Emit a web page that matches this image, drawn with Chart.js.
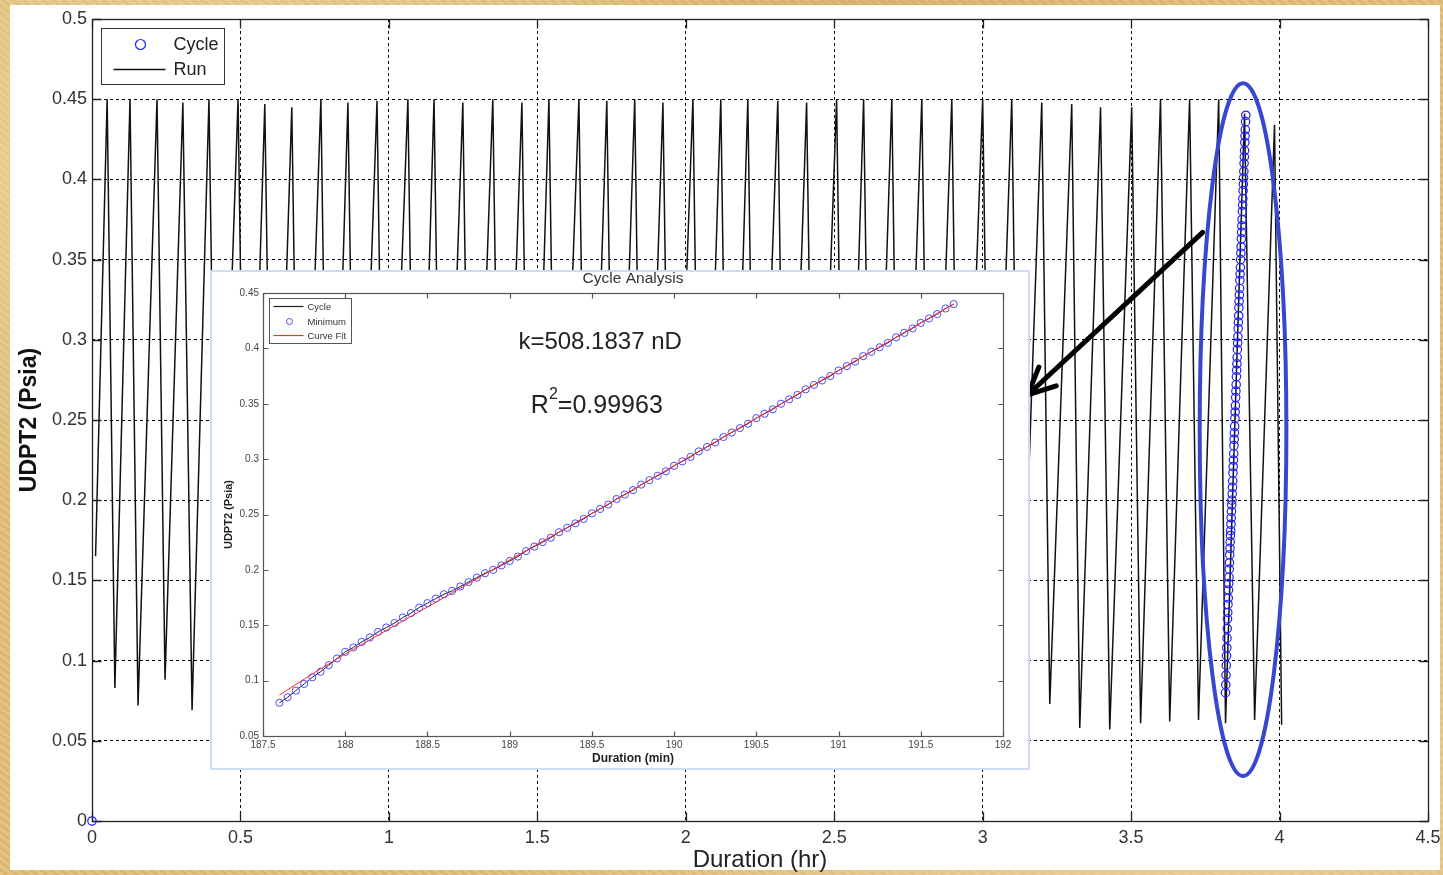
<!DOCTYPE html>
<html>
<head>
<meta charset="utf-8">
<script src="https://cdn.jsdelivr.net/npm/chart.js@4.4.1/dist/chart.umd.min.js"></script>
<style>
html,body{margin:0;padding:0;width:1443px;height:875px;overflow:hidden;}
body{position:relative;background-color:#e2be78;
background-image:
 radial-gradient(ellipse at 15% 20%, rgba(250,230,180,.55), rgba(0,0,0,0) 35%),
 radial-gradient(ellipse at 80% 90%, rgba(245,220,165,.6), rgba(0,0,0,0) 40%),
 radial-gradient(ellipse at 60% 5%, rgba(200,160,90,.35), rgba(0,0,0,0) 30%),
 repeating-linear-gradient(37deg, rgba(255,255,255,.06) 0 3px, rgba(0,0,0,.04) 3px 6px);}
#panel{position:absolute;left:10px;top:5px;width:1430px;height:865px;background:#fff;}
#main{position:absolute;left:0;top:0;}
#insetBox{position:absolute;left:212px;top:272px;width:816px;height:496px;background:#fff;outline:2px solid #cddcf2;}
#inset{position:absolute;left:0;top:0;}
</style>
</head>
<body>
<div id="panel"></div>
<canvas id="main" width="1443" height="875"></canvas>
<div id="insetBox"><canvas id="inset" width="816" height="496"></canvas></div>
<script>
// ---------------- DATA ----------------
// Main chart: tick values and labels
const xTicks = [0, 0.5, 1, 1.5, 2, 2.5, 3, 3.5, 4, 4.5];
const xTickLabels = ['0', '0.5', '1', '1.5', '2', '2.5', '3', '3.5', '4', '4.5'];
const yTicks = [0, 0.05, 0.1, 0.15, 0.2, 0.25, 0.3, 0.35, 0.4, 0.45, 0.5];
const yTickLabels = ['0', '0.05', '0.1', '0.15', '0.2', '0.25', '0.3', '0.35', '0.4', '0.45', '0.5'];

// Main chart "Run" series: start, then alternating peak / trough (Duration hr, UDPT2 Psia)
const runHr = [
  0.012,
  0.051, 0.077, 0.128, 0.155, 0.219, 0.246, 0.306, 0.337, 0.394, 0.423,
  0.492, 0.521, 0.582, 0.611, 0.673, 0.702, 0.771, 0.800, 0.862, 0.891,
  0.960, 0.989, 1.064, 1.093, 1.152, 1.181, 1.249, 1.278, 1.350, 1.379,
  1.448, 1.477, 1.539, 1.568, 1.640, 1.669, 1.734, 1.763, 1.828, 1.857,
  1.923, 1.952, 2.024, 2.053, 2.118, 2.147, 2.209, 2.238, 2.310, 2.339,
  2.407, 2.436, 2.508, 2.537, 2.599, 2.628, 2.694, 2.723, 2.795, 2.824,
  2.896, 2.925, 3.000, 3.029, 3.098, 3.127, 3.199, 3.226, 3.300, 3.327,
  3.397, 3.428, 3.502, 3.532, 3.599, 3.630, 3.697, 3.727, 3.795, 3.818,
  3.882, 3.916, 3.983, 4.007
];
const runPsia = [
  0.165,
  0.450, 0.083, 0.450, 0.072, 0.450, 0.088, 0.448, 0.069, 0.450, 0.075,
  0.450, 0.068, 0.447, 0.080, 0.445, 0.072, 0.450, 0.066, 0.448, 0.078,
  0.449, 0.070, 0.450, 0.064, 0.450, 0.076, 0.448, 0.069, 0.450, 0.073,
  0.448, 0.065, 0.450, 0.079, 0.450, 0.067, 0.449, 0.071, 0.450, 0.063,
  0.448, 0.074, 0.450, 0.068, 0.450, 0.062, 0.450, 0.070, 0.449, 0.066,
  0.448, 0.072, 0.450, 0.064, 0.450, 0.069, 0.450, 0.061, 0.450, 0.067,
  0.450, 0.065, 0.450, 0.070, 0.450, 0.066, 0.448, 0.073, 0.447, 0.058,
  0.445, 0.057, 0.445, 0.061, 0.450, 0.062, 0.450, 0.063, 0.450, 0.061,
  0.441, 0.063, 0.434, 0.060
];

// Cycle minimum data (inset, Duration min vs UDPT2 Psia)
const cycleMin = [
  187.60, 187.65, 187.70, 187.75, 187.80, 187.85, 187.90, 187.95, 188.00,
  188.05, 188.10, 188.15, 188.20, 188.25, 188.30, 188.35, 188.40, 188.45, 188.50,
  188.55, 188.60, 188.65, 188.70, 188.75, 188.80, 188.85, 188.90, 188.95, 189.00,
  189.05, 189.10, 189.15, 189.20, 189.25, 189.30, 189.35, 189.40, 189.45, 189.50,
  189.55, 189.60, 189.65, 189.70, 189.75, 189.80, 189.85, 189.90, 189.95, 190.00,
  190.05, 190.10, 190.15, 190.20, 190.25, 190.30, 190.35, 190.40, 190.45, 190.50,
  190.55, 190.60, 190.65, 190.70, 190.75, 190.80, 190.85, 190.90, 190.95, 191.00,
  191.05, 191.10, 191.15, 191.20, 191.25, 191.30, 191.35, 191.40, 191.45, 191.50,
  191.55, 191.60, 191.65, 191.70
];
const cyclePsia = [
  0.080, 0.085, 0.091, 0.097, 0.103, 0.108, 0.114, 0.120, 0.126,
  0.130, 0.135, 0.139, 0.144, 0.148, 0.152, 0.157, 0.161, 0.166, 0.170,
  0.174, 0.178, 0.181, 0.185, 0.189, 0.193, 0.197, 0.200, 0.204, 0.208,
  0.212, 0.217, 0.221, 0.225, 0.229, 0.234, 0.238, 0.242, 0.246, 0.251,
  0.255, 0.259, 0.264, 0.268, 0.272, 0.277, 0.281, 0.285, 0.289, 0.294,
  0.298, 0.302, 0.307, 0.311, 0.315, 0.320, 0.324, 0.328, 0.332, 0.337,
  0.341, 0.345, 0.350, 0.354, 0.358, 0.363, 0.367, 0.371, 0.375, 0.380,
  0.384, 0.388, 0.393, 0.397, 0.401, 0.405, 0.410, 0.414, 0.418, 0.423,
  0.427, 0.431, 0.436, 0.440
];
// Curve fit
const fitMin  = [187.6, 187.8, 188.0, 188.2, 188.4, 188.6, 188.8, 189.0, 189.5, 190.0, 190.5, 191.0, 191.5, 191.7];
const fitPsia = [0.087, 0.106, 0.124, 0.141, 0.158, 0.175, 0.192, 0.209, 0.251, 0.294, 0.337, 0.380, 0.423, 0.440];

// Main-chart cycle marker: origin point and hour at which the analysed cycle starts
const originHr = 0, originPsia = 0;
const cycleStartHr = 3.818;

// Inset ticks
const insetXTicks = [187.5, 188, 188.5, 189, 189.5, 190, 190.5, 191, 191.5, 192];
const insetXTickLabels = ['187.5', '188', '188.5', '189', '189.5', '190', '190.5', '191', '191.5', '192'];
const insetYTicks = [0.05, 0.1, 0.15, 0.2, 0.25, 0.3, 0.35, 0.4, 0.45];
const insetYTickLabels = ['0.05', '0.1', '0.15', '0.2', '0.25', '0.3', '0.35', '0.4', '0.45'];

// Texts
const insetTitle = 'Cycle Analysis';
const kText = 'k=508.1837 nD';
const r2Value = '=0.99963';

// ---------------- PLUGINS ----------------
const FONT = '"Liberation Sans", Arial, Helvetica, sans-serif';
Chart.defaults.font.family = FONT;

const matlabBox = {
  id: 'matlabBox',
  beforeDatasetsDraw(chart, args, o) {
    const {ctx, chartArea: a, scales: {x, y}} = chart;
    const L = Math.round(a.left) + 0.5, R = Math.round(a.right) + 0.5;
    const T = Math.round(a.top) + 0.5, B = Math.round(a.bottom) + 0.5;
    ctx.save();
    ctx.strokeStyle = o.color; ctx.lineWidth = o.width;
    ctx.beginPath();
    x.ticks.forEach(t => {
      const p = Math.round(x.getPixelForValue(t.value)) + 0.5;
      ctx.moveTo(p, B); ctx.lineTo(p, B - o.len);
      ctx.moveTo(p, T); ctx.lineTo(p, T + o.len);
    });
    y.ticks.forEach(t => {
      const p = Math.round(y.getPixelForValue(t.value)) + 0.5;
      ctx.moveTo(L, p); ctx.lineTo(L + o.len, p);
      ctx.moveTo(R, p); ctx.lineTo(R - o.len, p);
    });
    ctx.stroke();
    ctx.strokeRect(L, T, R - L, B - T);
    ctx.restore();
  }
};

const boxLegend = {
  id: 'boxLegend',
  afterDraw(chart, args, o) {
    if (!o || !o.items) return;
    const {ctx, chartArea: a} = chart;
    const x0 = Math.round(a.left + o.dx) + 0.5, y0 = Math.round(a.top + o.dy) + 0.5;
    ctx.save();
    ctx.fillStyle = '#fff'; ctx.fillRect(x0, y0, o.w, o.h);
    ctx.strokeStyle = o.borderColor; ctx.lineWidth = 1; ctx.strokeRect(x0, y0, o.w, o.h);
    ctx.font = o.font; ctx.textBaseline = 'middle'; ctx.textAlign = 'left';
    o.items.forEach(it => {
      const ds = chart.data.datasets[it.dataset];
      const yy = y0 + it.y;
      if (it.kind === 'line') {
        ctx.strokeStyle = ds.borderColor; ctx.lineWidth = Math.max(ds.borderWidth, 1.2);
        ctx.beginPath(); ctx.moveTo(x0 + o.lineFrom, yy); ctx.lineTo(x0 + o.lineTo, yy); ctx.stroke();
      } else {
        ctx.strokeStyle = ds.pointBorderColor; ctx.lineWidth = ds.pointBorderWidth || 1;
        ctx.beginPath(); ctx.arc(x0 + o.markerX, yy, o.markerR, 0, Math.PI * 2); ctx.stroke();
      }
      ctx.fillStyle = o.color; ctx.fillText(ds.label, x0 + o.textX, yy + 1);
    });
    ctx.restore();
  }
};

const mainAnnot = {
  id: 'mainAnnot',
  afterDatasetsDraw(chart, args, o) {
    const {ctx, scales: {x, y}} = chart;
    const e = o.ellipse;
    const cx = x.getPixelForValue(e.cx), cy = y.getPixelForValue(e.cy);
    const rx = Math.abs(x.getPixelForValue(e.cx + e.rx) - cx);
    const ry = Math.abs(y.getPixelForValue(e.cy + e.ry) - cy);
    ctx.save();
    ctx.strokeStyle = e.color; ctx.lineWidth = e.width;
    ctx.beginPath(); ctx.ellipse(cx, cy, rx, ry, 0, 0, Math.PI * 2); ctx.stroke();
    const ar = o.arrow;
    const x1 = x.getPixelForValue(ar.from[0]), y1 = y.getPixelForValue(ar.from[1]);
    const x2 = x.getPixelForValue(ar.to[0]), y2 = y.getPixelForValue(ar.to[1]);
    ctx.strokeStyle = ar.color; ctx.lineWidth = ar.width; ctx.lineCap = 'round'; ctx.lineJoin = 'round';
    ctx.beginPath(); ctx.moveTo(x1, y1); ctx.lineTo(x2, y2); ctx.stroke();
    const ang = Math.atan2(y1 - y2, x1 - x2);
    ctx.beginPath();
    ctx.moveTo(x2 + ar.head * Math.cos(ang - ar.spread), y2 + ar.head * Math.sin(ang - ar.spread));
    ctx.lineTo(x2, y2);
    ctx.lineTo(x2 + ar.head * Math.cos(ang + ar.spread), y2 + ar.head * Math.sin(ang + ar.spread));
    ctx.stroke();
    ctx.restore();
  }
};

const insetText = {
  id: 'insetText',
  afterDraw(chart, args, o) {
    const {ctx, chartArea: a, scales: {x, y}} = chart;
    ctx.save();
    // title centred over the plot area
    ctx.fillStyle = o.titleColor; ctx.font = o.titleFont; ctx.textAlign = 'center'; ctx.textBaseline = 'middle';
    ctx.fillText(o.title, (a.left + a.right) / 2, a.top - o.titleGap);
    ctx.fillStyle = o.color;
    ctx.font = o.font;
    ctx.fillText(o.k, x.getPixelForValue(o.kPos[0]), y.getPixelForValue(o.kPos[1]));
    // R^2 line
    const big = o.rFont, small = o.supFont;
    ctx.textAlign = 'left';
    ctx.font = big; const wR = ctx.measureText('R').width; const wV = ctx.measureText(o.r2).width;
    ctx.font = small; const w2 = ctx.measureText('2').width;
    const total = wR + w2 + wV;
    let px = x.getPixelForValue(o.rPos[0]) - total / 2;
    const py = y.getPixelForValue(o.rPos[1]);
    ctx.font = big; ctx.fillText('R', px, py); px += wR;
    ctx.font = small; ctx.fillText('2', px, py - 11); px += w2;
    ctx.font = big; ctx.fillText(o.r2, px, py);
    ctx.restore();
  }
};

// ---------------- MAIN CHART ----------------
const runData = runHr.map((h, i) => ({x: h, y: runPsia[i]}));
const mainCycleData = [{x: originHr, y: originPsia}].concat(
  cycleMin.map((m, i) => ({x: cycleStartHr + (m - cycleMin[0]) / 60, y: cyclePsia[i]}))
);

function fixedTicks(values) {
  return scale => { scale.ticks = values.map(v => ({value: v})); };
}
function fitX(h) { return s => { s.height = h; s.paddingLeft = 0; s.paddingRight = 0; }; }
function fitY(w) { return s => { s.width = w; s.paddingTop = 0; s.paddingBottom = 0; }; }

new Chart(document.getElementById('main'), {
  type: 'line',
  data: {
    datasets: [
      {
        label: 'Cycle', data: mainCycleData, showLine: false,
        pointRadius: 4.2, pointBorderColor: '#1f1fff', pointBackgroundColor: 'rgba(0,0,0,0)',
        pointBorderWidth: 1.2, borderColor: '#1f1fff', clip: false
      },
      {
        label: 'Run', data: runData, borderColor: '#111', borderWidth: 1.5,
        pointRadius: 0, tension: 0, fill: false
      }
    ]
  },
  options: {
    responsive: false, animation: false, devicePixelRatio: 1, events: [],
    layout: {padding: {top: 19, right: 15, left: 0, bottom: 0}},
    scales: {
      x: {
        type: 'linear', min: 0, max: 4.5,
        afterBuildTicks: fixedTicks(xTicks),
        afterFit: fitX(54),
        ticks: {callback: (v, i) => xTickLabels[i], font: {size: 18}, color: '#333', padding: 6, maxRotation: 0, autoSkip: false},
        grid: {color: '#000', lineWidth: 1, drawTicks: false},
        border: {display: false, dash: [3, 3]},
        title: {display: true, text: 'Duration (hr)', font: {size: 24}, color: '#222', padding: {top: 0, bottom: 0}}
      },
      y: {
        type: 'linear', min: 0, max: 0.5,
        afterBuildTicks: fixedTicks(yTicks),
        afterFit: fitY(92),
        ticks: {callback: (v, i) => yTickLabels[i], font: {size: 18}, color: '#333', padding: 5, autoSkip: false},
        grid: {color: '#000', lineWidth: 1, drawTicks: false},
        border: {display: false, dash: [3, 3]},
        title: {display: true, text: 'UDPT2 (Psia)', font: {size: 23, weight: 'bold'}, color: '#111', padding: {top: 16, bottom: 0}}
      }
    },
    plugins: {
      legend: {display: false}, tooltip: {enabled: false}, title: {display: false},
      matlabBox: {color: '#222', width: 1.3, len: 9},
      boxLegend: {
        dx: 9, dy: 9, w: 123, h: 56, borderColor: '#333', color: '#222',
        font: '18px ' + FONT, lineFrom: 12, lineTo: 64, markerX: 39, markerR: 5, textX: 72,
        items: [{dataset: 0, kind: 'circle', y: 16}, {dataset: 1, kind: 'line', y: 41}]
      },
      mainAnnot: {
        ellipse: {cx: 3.877, cy: 0.244, rx: 0.146, ry: 0.216, color: '#3747cf', width: 4},
        arrow: {from: [3.741, 0.367], to: [3.1515, 0.2656], color: '#000', width: 5, head: 30, spread: 0.44}
      }
    }
  },
  plugins: [matlabBox, boxLegend, mainAnnot]
});

// ---------------- INSET CHART ----------------
const insetCycle = cycleMin.map((m, i) => ({x: m, y: cyclePsia[i]}));
const insetFit = fitMin.map((m, i) => ({x: m, y: fitPsia[i]}));

new Chart(document.getElementById('inset'), {
  type: 'line',
  data: {
    datasets: [
      {label: 'Cycle', data: insetCycle, borderColor: '#222', borderWidth: 1, pointRadius: 0, tension: 0, order: 2},
      {label: 'Minimum', data: insetCycle, showLine: false, pointRadius: 3.6, pointBorderColor: '#4b4bff',
       pointBackgroundColor: 'rgba(0,0,0,0)', pointBorderWidth: 1, borderColor: '#4b4bff', order: 1},
      {label: 'Curve Fit', data: insetFit, borderColor: '#ff2a2a', borderWidth: 1, pointRadius: 0, tension: 0.3, order: 0}
    ]
  },
  options: {
    responsive: false, animation: false, devicePixelRatio: 1, events: [],
    layout: {padding: {top: 21, right: 25, left: 0, bottom: 0}},
    scales: {
      x: {
        type: 'linear', min: 187.5, max: 192,
        afterBuildTicks: fixedTicks(insetXTicks),
        afterFit: fitX(32),
        ticks: {callback: (v, i) => insetXTickLabels[i], font: {size: 10}, color: '#444', padding: 3, maxRotation: 0, autoSkip: false},
        grid: {display: false, drawTicks: false},
        border: {display: false},
        title: {display: true, text: 'Duration (min)', font: {size: 12, weight: 'bold'}, color: '#222', padding: {top: 0, bottom: 2}}
      },
      y: {
        type: 'linear', min: 0.05, max: 0.45,
        afterBuildTicks: fixedTicks(insetYTicks),
        afterFit: fitY(51),
        ticks: {callback: (v, i) => insetYTickLabels[i], font: {size: 10}, color: '#444', padding: 4, autoSkip: false},
        grid: {display: false, drawTicks: false},
        border: {display: false},
        title: {display: true, text: 'UDPT2 (Psia)', font: {size: 11, weight: 'bold'}, color: '#222', padding: {top: 10, bottom: 0}}
      }
    },
    plugins: {
      legend: {display: false}, tooltip: {enabled: false}, title: {display: false},
      matlabBox: {color: '#555', width: 1.2, len: 5},
      boxLegend: {
        dx: 6, dy: 5, w: 82, h: 45, borderColor: '#555', color: '#333',
        font: '9.5px ' + FONT, lineFrom: 4, lineTo: 34, markerX: 20, markerR: 3, textX: 38,
        items: [{dataset: 0, kind: 'line', y: 8}, {dataset: 1, kind: 'circle', y: 23}, {dataset: 2, kind: 'line', y: 37}]
      },
      insetText: {
        title: insetTitle, titleFont: '15.5px ' + FONT, titleColor: '#333', titleGap: 14,
        color: '#222', font: '24px ' + FONT, rFont: '25px ' + FONT, supFont: '16px ' + FONT,
        k: kText, kPos: [189.55, 0.4058], r2: r2Value, rPos: [189.53, 0.348]
      }
    }
  },
  plugins: [matlabBox, boxLegend, insetText]
});
</script>
</body>
</html>
